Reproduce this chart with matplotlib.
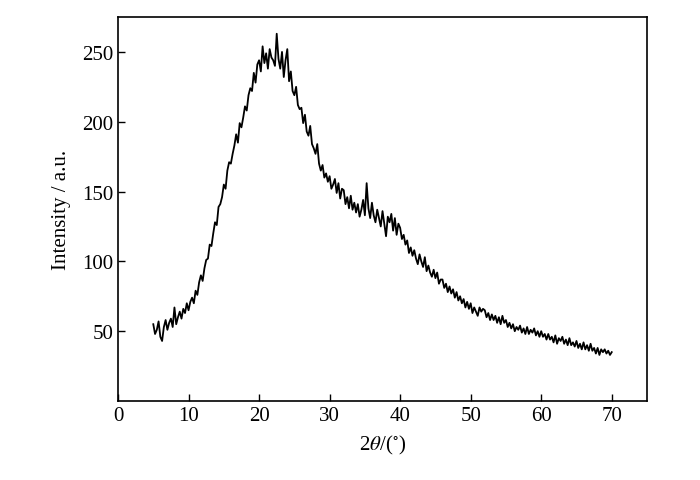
import numpy as np
import matplotlib
matplotlib.use("Agg")
from matplotlib import pyplot as plt

plt.rcParams['font.family'] = ['Liberation Serif', 'DejaVu Serif']
plt.rcParams['mathtext.fontset'] = 'stix'

# intensity, 2theta from 5 to 70 deg in 0.25 deg steps
intensity = [
    55, 48, 51, 57,   46, 43, 53, 58,   51, 56, 59, 53,   67, 55, 60, 64,       # 5-8
    59, 66, 63, 70,   65, 71, 74, 70,   79, 76, 85, 90,   86, 95, 101, 102,     # 9-12
    112, 111, 120, 128,   126, 139, 141, 146,   155, 152, 165, 171,   170, 177, 183, 191,  # 13-16
    185, 199, 196, 203,   211, 208, 219, 224,   222, 235, 228, 241,   244, 236, 254, 242,  # 17-20
    249, 238, 252, 246,   244, 240, 263, 245,   238, 250, 232, 244,   252, 229, 236, 222,  # 21-24
    219, 225, 212, 209,   210, 199, 205, 193,   190, 197, 184, 181,   177, 184, 170, 165,  # 25-28
    169, 160, 163, 157,   161, 152, 155, 159,   149, 156, 145, 152,   151, 141, 146, 138,  # 29-32
    147, 137, 142, 135,   141, 132, 137, 144,   133, 156, 138, 131,   142, 133, 128, 137,  # 33-36
    131, 125, 136, 127,   118, 132, 128, 134,   122, 131, 119, 127,   124, 116, 119, 112,  # 37-40
    115, 106, 110, 104,   108, 102, 98, 105,   100, 96, 103, 93,   97, 92, 89, 94,        # 41-44
    88, 92, 84, 87,   87, 81, 84, 78,   82, 77, 80, 74,   78, 72, 75, 70,                # 45-48
    73, 67, 71, 66,   70, 63, 67, 64,   61, 67, 64, 66,   65, 60, 63, 58,                # 49-52
    62, 58, 61, 56,   60, 55, 61, 56,   58, 53, 56, 52,   55, 50, 53, 51,                # 53-56
    54, 49, 52, 48,   53, 48, 51, 49,   52, 47, 50, 46,   50, 46, 48, 44,                # 57-60
    48, 44, 46, 42,   47, 41, 45, 43,   46, 41, 44, 40,   45, 40, 42, 39,                # 61-64
    43, 38, 41, 37,   42, 37, 40, 36,   41, 36, 38, 34,   38, 33, 37, 35,                # 65-68
    37, 34, 36, 33,   35,                                                                # 69-70
]
two_theta = np.linspace(5, 70, len(intensity))

xticks = [0, 10, 20, 30, 40, 50, 60, 70]
yticks = [50, 100, 150, 200, 250]

fig = plt.figure(figsize=(7, 4.81), dpi=100)
ax = fig.add_axes([0.1686, 0.1642, 0.7557, 0.7984])
ax.plot(two_theta, intensity, color='black', lw=1.3)
ax.set_xlim(0, 75)
ax.set_ylim(0, 275)
ax.set_xticks(xticks)
ax.set_yticks(yticks)
ax.tick_params(direction='in', length=5, width=1, labelsize=15, top=False, right=False)
for s in ax.spines.values():
    s.set_linewidth(1.2)
ax.set_xlabel(r'2$\theta$/($^{\circ}$)', fontsize=15, labelpad=6)
ax.set_ylabel('Intensity / a.u.', fontsize=15, labelpad=8)

fig.savefig('out.png', dpi=100)
